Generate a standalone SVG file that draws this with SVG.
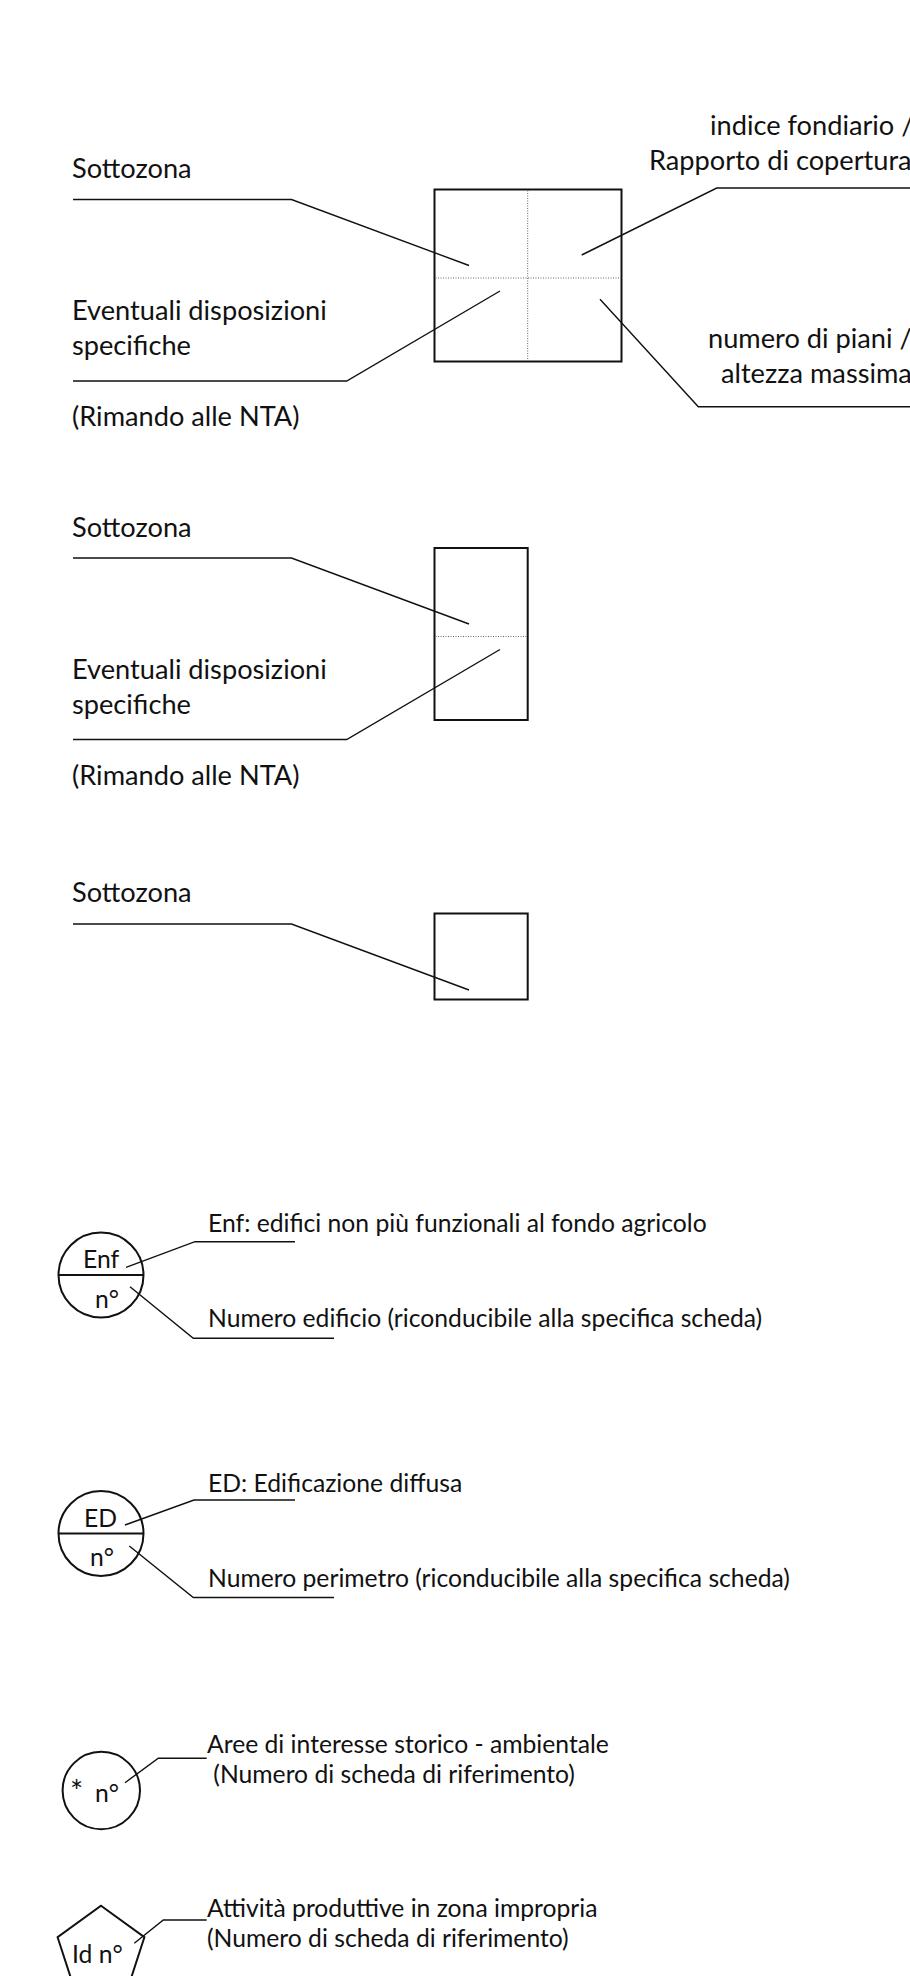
<svg xmlns="http://www.w3.org/2000/svg" width="910" height="1976" viewBox="0 0 910 1976">
<style>
.t{font-family:Lato,"Liberation Sans",sans-serif;font-size:27.2px;fill:#111}
.s{font-family:Lato,"Liberation Sans",sans-serif;font-size:24.7px;fill:#111}
.box{fill:none;stroke:#111;stroke-width:2}
.dot{fill:none;stroke:#666;stroke-width:1;stroke-dasharray:1 1.5}
.ld{fill:none;stroke:#111;stroke-width:1.4}
</style>
<rect width="910" height="1976" fill="#fff"/>
<g id="block1">
<g id="box1"><rect class="box" x="434.5" y="189.5" width="187" height="172"/>
<line class="dot" x1="527.7" y1="190.5" x2="527.7" y2="360.5"/>
<line class="dot" x1="435.5" y1="278" x2="620.5" y2="278"/></g>
<g id="label-sottozona1"><text class="t" x="72" y="178">Sottozona</text></g>
<g id="label-eventuali1"><text class="t" x="72" y="320">Eventuali disposizioni</text><text class="t" x="72" y="355">specifiche</text></g>
<g id="label-rimando1"><text class="t" x="72" y="426">(Rimando alle NTA)</text></g>
<g id="label-indice"><text class="t" x="710" y="135">indice fondiario /</text><text class="t" x="649" y="170">Rapporto di copertura</text></g>
<g id="label-piani"><text class="t" x="708" y="348">numero di piani /</text><text class="t" x="721" y="383">altezza massima</text></g>
</g>
<g id="block2">
<g id="box2"><rect class="box" x="434.5" y="548" width="93.2" height="172"/>
<line class="dot" x1="435.5" y1="636.5" x2="526.7" y2="636.5"/></g>
<g id="label-sottozona2"><text class="t" x="72" y="536.5">Sottozona</text></g>
<g id="label-eventuali2"><text class="t" x="72" y="678.5">Eventuali disposizioni</text><text class="t" x="72" y="713.5">specifiche</text></g>
<g id="label-rimando2"><text class="t" x="72" y="784.5">(Rimando alle NTA)</text></g>
</g>
<g id="block3">
<g id="box3"><rect class="box" x="434.5" y="913.5" width="93.2" height="86"/></g>
<g id="label-sottozona3"><text class="t" x="72" y="902">Sottozona</text></g>
</g>
<g id="enf">
<circle class="box" cx="101" cy="1275" r="42.5"/>
<line class="box" x1="58.5" y1="1275" x2="143.5" y2="1275"/>
<text class="s" x="83" y="1268">Enf</text>
<text class="s" x="95" y="1308">n°</text>
</g>
<g id="label-enf"><text class="s" x="208" y="1232">Enf: edifici non più funzionali al fondo agricolo</text></g>
<g id="label-numero-edificio"><text class="s" x="208" y="1327">Numero edificio (riconducibile alla specifica scheda)</text></g>
<g id="ed">
<circle class="box" cx="101" cy="1533.5" r="42.5"/>
<line class="box" x1="58.5" y1="1533.5" x2="143.5" y2="1533.5"/>
<text class="s" x="84" y="1526.5">ED</text>
<text class="s" x="90" y="1565.5">n°</text>
</g>
<g id="label-ed"><text class="s" x="208" y="1491.7">ED: Edificazione diffusa</text></g>
<g id="label-numero-perimetro"><text class="s" x="208" y="1586.7">Numero perimetro (riconducibile alla specifica scheda)</text></g>
<g id="storico">
<circle class="box" cx="101.3" cy="1790.5" r="38.7"/>
<text class="s" y="1801.7"><tspan x="70" font-size="31">*</tspan><tspan x="95">n°</tspan></text>
</g>
<g id="label-storico"><text class="s" x="207" y="1753">Aree di interesse storico - ambientale</text><text class="s" x="207" y="1783" xml:space="preserve"> (Numero di scheda di riferimento)</text></g>
<g id="produttive">
<polygon class="box" points="101,1905.7 144.4,1937.2 127.8,1988.2 74.2,1988.2 57.6,1937.2"/>
<text class="s" x="72" y="1962.7">Id n°</text>
</g>
<g id="label-produttive"><text class="s" x="207" y="1917">Attività produttive in zona impropria</text><text class="s" x="207" y="1947">(Numero di scheda di riferimento)</text></g>
<g id="connectors">
<polyline class="ld" points="73,199.5 291.5,199.5 469,265.5"/>
<polyline class="ld" points="73,381 346.7,381 500,291"/>
<polyline class="ld" points="581.7,255 716.7,188 910,188"/>
<polyline class="ld" points="600,299.3 698.3,406.7 910,406.7"/>
<polyline class="ld" points="73,558 291.5,558 469,624"/>
<polyline class="ld" points="73,739.5 346.7,739.5 500,649.5"/>
<polyline class="ld" points="73,924 291.5,924 469,990"/>
<polyline class="ld" points="126,1267.3 195,1241.7 295,1241.7"/>
<polyline class="ld" points="130,1286.7 193.3,1338.3 334,1338.3"/>
<polyline class="ld" points="125,1525 194,1500 295,1500"/>
<polyline class="ld" points="129.3,1546 193.3,1597.5 334,1597.5"/>
<polyline class="ld" points="125,1782.7 158.3,1758.3 206.7,1758.3"/>
<polyline class="ld" points="134.3,1943.3 163.3,1920 206.7,1920"/>
</g>
</svg>
